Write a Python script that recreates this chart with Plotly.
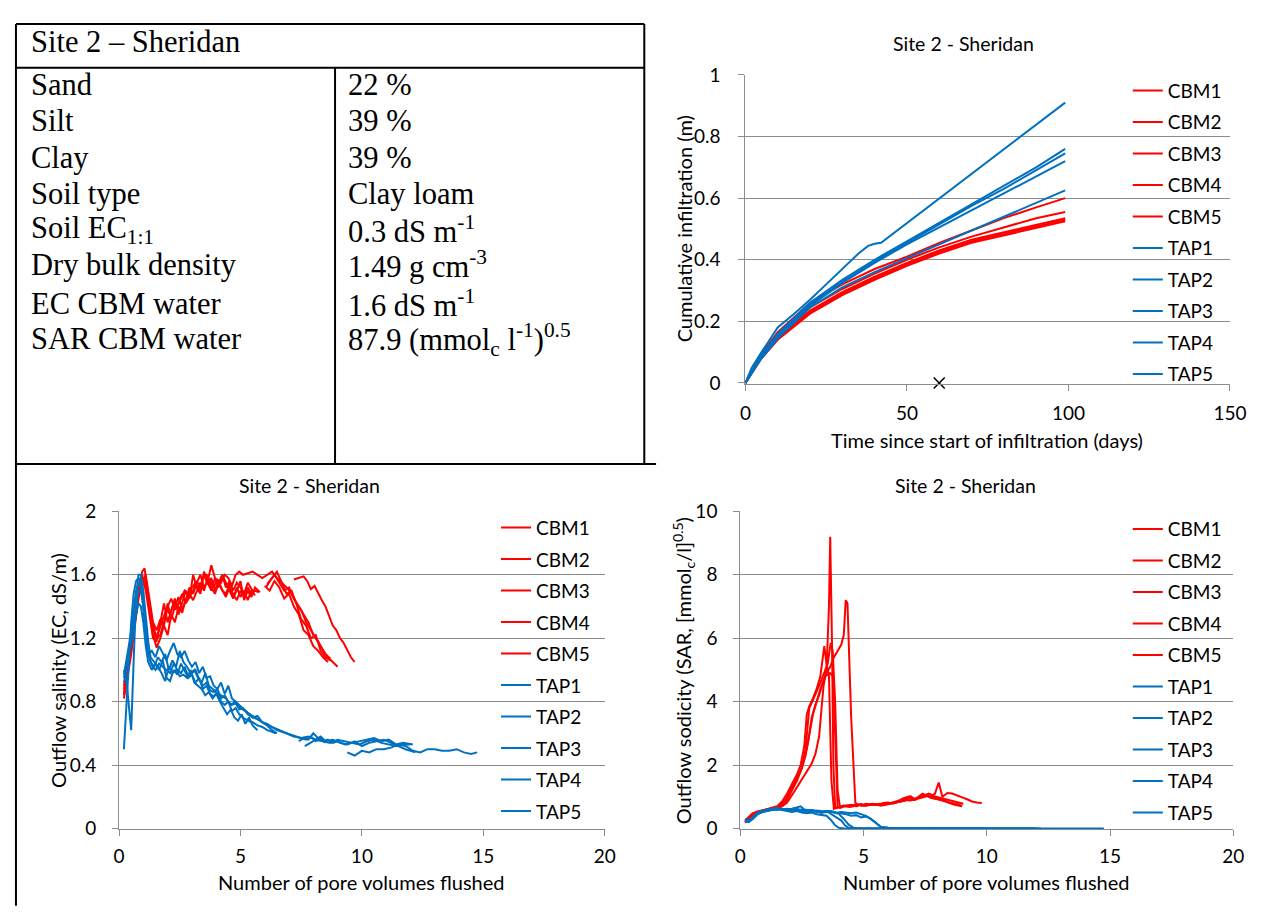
import plotly.graph_objects as go

# page is 1277x916; the browser keeps an 8px body margin, so the figure is 1261x900 at (8,8)
PAGE_W, PAGE_H = 1277, 916
OX, OY = 8, 8
W, H = PAGE_W - 2 * OX, PAGE_H - 2 * OY
RED = "#FF0000"
BLUE = "#0070C0"
GRID = "#8C8C8C"
FONT = "Lato"

# ---------------- table data ----------------
table_title = "Site 2 – Sheridan"
table_labels = ["Sand", "Silt", "Clay", "Soil type", "Soil EC<sub>1:1</sub>",
                "Dry bulk density", "EC CBM water", "SAR CBM water"]
table_values = ["22 %", "39 %", "39 %", "Clay loam", "0.3 dS m<sup>-1</sup>",
                "1.49 g cm<sup>-3</sup>", "1.6 dS m<sup>-1</sup>",
                "87.9 (mmol<sub>c</sub> l<sup>-1</sup>)<sup>0.5</sup>"]

chart_title = "Site 2 - Sheridan"
series_names = ["CBM1", "CBM2", "CBM3", "CBM4", "CBM5", "TAP1", "TAP2", "TAP3", "TAP4", "TAP5"]

# ---------------- cumulative infiltration (days, m) ----------------
inf_t = [0, 5, 10, 20, 30, 40, 50, 60, 70, 80, 90, 99]
inf_tap1_t = [0, 2, 5, 10, 15, 20, 25, 30, 35, 38, 40, 42, 50, 60, 70, 80, 90, 99]
inf_cbm1 = [0, 0.095, 0.165, 0.26, 0.32, 0.37, 0.41, 0.455, 0.495, 0.535, 0.57, 0.60]
inf_cbm2 = [0, 0.09, 0.155, 0.245, 0.305, 0.355, 0.40, 0.44, 0.475, 0.505, 0.535, 0.555]
inf_cbm3 = [0, 0.085, 0.15, 0.235, 0.295, 0.345, 0.39, 0.43, 0.465, 0.49, 0.515, 0.535]
inf_cbm4 = [0, 0.085, 0.145, 0.23, 0.29, 0.34, 0.385, 0.425, 0.46, 0.485, 0.51, 0.53]
inf_cbm5 = [0, 0.08, 0.14, 0.225, 0.285, 0.335, 0.38, 0.42, 0.455, 0.48, 0.505, 0.525]
inf_tap1 = [0, 0.05, 0.10, 0.18, 0.224, 0.27, 0.32, 0.37, 0.42, 0.445, 0.452, 0.455,
            0.519, 0.599, 0.678, 0.758, 0.838, 0.91]
inf_tap2 = [0, 0.09, 0.16, 0.26, 0.335, 0.40, 0.46, 0.52, 0.58, 0.64, 0.70, 0.76]
inf_tap3 = [0, 0.088, 0.155, 0.255, 0.33, 0.395, 0.455, 0.515, 0.575, 0.63, 0.69, 0.745]
inf_tap4 = [0, 0.085, 0.15, 0.25, 0.325, 0.39, 0.45, 0.505, 0.56, 0.615, 0.67, 0.72]
inf_tap5 = [0, 0.08, 0.145, 0.245, 0.31, 0.36, 0.405, 0.45, 0.495, 0.54, 0.585, 0.625]
inf_stray_t = [60]
inf_stray_v = [0]

# ---------------- outflow salinity EC (pore volumes, dS/m) ----------------
ec_cbm1_x = [0.2, 0.35, 0.5, 0.65, 0.8, 0.95, 1.05, 1.2, 1.35, 1.5, 1.65, 1.8, 1.95, 2.1, 2.25, 2.4,
             2.55, 2.7, 2.85, 3.0, 3.15, 3.3, 3.45, 3.6, 3.75, 3.9, 4.05, 4.2, 4.35, 4.5, 4.65, 4.8,
             4.95, 5.1, 5.3, 5.5, 5.7, 5.9, 6.1, 6.3, 6.5, 6.7, 6.9, 7.1, 7.3, 7.5, 7.7, 7.9, 8.1,
             8.3, 8.5, 8.7]
ec_cbm1_y = [0.85, 1.0, 1.15, 1.32, 1.5, 1.62, 1.64, 1.48, 1.3, 1.2, 1.25, 1.32, 1.38, 1.35, 1.42, 1.4,
             1.45, 1.5, 1.47, 1.52, 1.55, 1.5, 1.58, 1.6, 1.56, 1.52, 1.57, 1.55, 1.6, 1.58, 1.53, 1.6,
             1.62, 1.6, 1.61, 1.62, 1.6, 1.58, 1.6, 1.62, 1.58, 1.55, 1.52, 1.48, 1.42, 1.38, 1.3, 1.25,
             1.2, 1.15, 1.1, 1.07]
ec_cbm2_x = [0.2, 0.35, 0.5, 0.65, 0.8, 0.95, 1.1, 1.25, 1.4, 1.55, 1.7, 1.85, 2.0, 2.15, 2.3, 2.45,
             2.6, 2.75, 2.9, 3.05, 3.2, 3.35, 3.5, 3.65, 3.8, 3.95, 4.1, 4.25, 4.4, 4.55, 4.7, 4.85,
             5.0, 5.15, 5.3, 5.45, 5.6, 5.75, 5.9, 6.05, 6.2, 6.4, 6.6, 6.8, 7.0, 7.2, 7.4, 7.6, 7.8,
             8.0, 8.2, 8.4, 8.6, 8.8, 9.0]
ec_cbm2_y = [0.82, 0.95, 1.1, 1.28, 1.45, 1.58, 1.55, 1.38, 1.22, 1.14, 1.2, 1.28, 1.22, 1.35, 1.3, 1.4,
             1.36, 1.45, 1.48, 1.44, 1.5, 1.55, 1.5, 1.58, 1.52, 1.48, 1.55, 1.5, 1.46, 1.52, 1.48, 1.44,
             1.5, 1.46, 1.52, 1.48, 1.5, 1.49, None, 1.52, 1.56, 1.6, 1.55, 1.5, 1.52, 1.45, 1.4, 1.35,
             1.3, 1.22, 1.18, 1.12, 1.08, 1.05, 1.02]
ec_cbm3_x = [0.2, 0.35, 0.5, 0.65, 0.8, 0.95, 1.1, 1.25, 1.4, 1.55, 1.7, 1.85, 2.0, 2.15, 2.3, 2.45,
             2.6, 2.75, 2.9, 3.05, 3.2, 3.35, 3.5, 3.65, 3.8, 3.95, 4.1, 4.25, 4.4, 4.55, 4.7, 4.85,
             5.0, 5.15, 5.3, 5.45, 5.6, 5.9, 6.1, 6.3, 6.5, 6.7, 6.9, 7.1, 7.3, 7.5, 7.7, 7.9, 8.1,
             8.3, 8.5, 8.7]
ec_cbm3_y = [0.9, 1.02, 1.18, 1.35, 1.52, 1.6, 1.5, 1.35, 1.2, 1.18, 1.3, 1.42, 1.3, 1.38, 1.45, 1.35,
             1.42, 1.5, 1.45, 1.6, 1.52, 1.48, 1.62, 1.55, 1.5, 1.58, 1.52, 1.6, 1.55, 1.5, 1.45, 1.52,
             1.46, 1.5, 1.44, 1.5, 1.47, None, 1.54, 1.58, 1.62, 1.55, 1.48, 1.5, 1.42, 1.32, 1.28, 1.2,
             1.22, 1.12, 1.08, 1.06]
ec_cbm4_x = [0.2, 0.35, 0.5, 0.65, 0.8, 0.95, 1.1, 1.25, 1.4, 1.55, 1.7, 1.85, 2.0, 2.15, 2.3, 2.45,
             2.6, 2.75, 2.9, 3.05, 3.2, 3.35, 3.5, 3.65, 3.8, 3.95, 4.1, 4.25, 4.4, 4.55, 4.7, 4.85,
             5.0, 5.15, 5.3, 5.5, 5.75, 6.0, 6.2, 6.4, 6.6, 6.8, 7.0, 7.2, 7.4, 7.6, 7.8, 8.0, 8.2,
             8.4, 8.6]
ec_cbm4_y = [0.88, 1.0, 1.12, 1.3, 1.48, 1.56, 1.52, 1.4, 1.28, 1.2, 1.22, 1.3, 1.42, 1.32, 1.4, 1.46,
             1.38, 1.44, 1.52, 1.48, 1.55, 1.6, 1.52, 1.56, 1.66, 1.58, 1.55, 1.6, 1.52, 1.56, 1.5, 1.55,
             1.52, 1.48, 1.55, 1.5, None, 1.53, 1.5, 1.56, 1.52, 1.45, 1.48, 1.4, 1.35, 1.25, 1.22, 1.15,
             1.12, 1.08, 1.05]
ec_cbm5_x = [0.2, 0.35, 0.5, 0.65, 0.8, 0.95, 1.1, 1.25, 1.4, 1.55, 1.7, 1.85, 2.0, 2.15, 2.3, 2.45,
             2.6, 2.75, 2.9, 3.05, 3.2, 3.35, 3.5, 3.65, 3.8, 3.95, 4.1, 4.25, 4.4, 4.55, 4.7, 4.85,
             5.0, 5.15, 5.3, 5.45, 5.6, 5.8, 6.5, 7.2, 7.4, 7.6, 7.75, 7.9, 8.05, 8.2, 8.35, 8.5, 8.65,
             8.8, 8.95, 9.1, 9.25, 9.4, 9.55, 9.7]
ec_cbm5_y = [0.84, 0.98, 1.14, 1.3, 1.46, 1.55, 1.6, 1.45, 1.3, 1.25, 1.32, 1.28, 1.4, 1.45, 1.38, 1.42,
             1.48, 1.42, 1.46, 1.5, 1.56, 1.52, 1.6, 1.54, 1.58, 1.5, 1.56, 1.5, 1.48, 1.54, 1.46, 1.5,
             1.56, 1.44, 1.5, 1.46, 1.52, 1.49, None, 1.57, 1.58, 1.59, 1.56, 1.51, 1.53, 1.48, 1.44,
             1.4, 1.34, 1.28, 1.25, 1.2, 1.17, 1.12, 1.08, 1.05]
ec_tap1_x = [0.2, 0.3, 0.4, 0.5, 0.6, 0.7, 0.8, 0.9, 1.0, 1.1, 1.2, 1.3, 1.45, 1.6, 1.75, 1.9, 2.05,
             2.2, 2.35, 2.5, 2.65, 2.8, 2.95, 3.1, 3.25, 3.4, 3.55, 3.7, 3.85, 4.0, 4.2, 4.4, 4.6, 4.8,
             5.0, 5.2, 5.4, 5.6, 5.8, 6.0, 6.3, 6.6, 6.9, 7.2, 7.5, 7.8, 8.1, 8.4, 8.7, 9.0, 9.3, 9.6,
             9.9, 10.2, 10.5, 10.8, 11.1, 11.4, 11.7, 12.0]
ec_tap1_y = [0.5, 0.78, 1.05, 1.3, 1.48, 1.56, 1.58, 1.55, 1.42, 1.25, 1.12, 1.05, 1.02, 1.08, 1.05,
             1.1, 1.0, 1.06, 1.02, 1.12, 1.05, 1.02, 0.98, 1.0, 0.95, 0.92, 0.98, 0.9, 0.88, 0.86, 0.84,
             0.82, 0.78, 0.8, 0.76, 0.74, 0.72, 0.7, 0.68, 0.66, 0.64, 0.62, 0.6, 0.58, 0.57, 0.58, 0.56,
             0.55, 0.54, 0.56, 0.55, 0.54, 0.53, 0.55, 0.56, 0.54, 0.53, 0.52, 0.53, 0.53]
ec_tap2_x = [0.2, 0.3, 0.4, 0.5, 0.6, 0.7, 0.8, 0.9, 1.0, 1.1, 1.2, 1.3, 1.45, 1.6, 1.75, 1.9, 2.05,
             2.2, 2.35, 2.5, 2.65, 2.8, 2.95, 3.1, 3.25, 3.4, 3.55, 3.7, 3.85, 4.0, 4.15, 4.3, 4.45,
             4.6, 4.75, 4.9, 5.05, 5.2, 5.35, 5.5, 5.7]
ec_tap2_y = [1.0, 0.95, 0.78, 0.62, 1.05, 1.45, 1.6, 1.6, 1.5, 1.32, 1.18, 1.08, 1.05, 1.02, 0.98,
             0.93, 1.02, 0.98, 1.0, 0.96, 0.97, 0.95, 1.0, 0.92, 0.9, 0.88, 0.84, 0.86, 0.82, 0.85, 0.8,
             0.76, 0.72, 0.75, 0.7, 0.68, 0.72, 0.66, 0.7, 0.65, 0.62]
ec_tap3_x = [0.2, 0.3, 0.4, 0.5, 0.6, 0.7, 0.8, 0.9, 1.0, 1.1, 1.2, 1.35, 1.5, 1.65, 1.8, 1.95, 2.1,
             2.25, 2.4, 2.55, 2.7, 2.85, 3.0, 3.15, 3.3, 3.45, 3.6, 3.75, 3.9, 4.05, 4.2, 4.35, 4.5,
             4.65, 4.8, 4.95, 5.1, 5.3, 5.5, 5.7, 5.9, 6.1, 6.3, 6.5, 7.0, 7.4, 7.6, 7.8, 8.0, 8.2,
             8.4, 8.6, 8.8, 9.0, 9.3, 9.6, 9.9, 10.2, 10.5, 10.8, 11.1, 11.4, 11.7, 12.1]
ec_tap3_y = [0.95, 1.02, 1.1, 1.2, 1.3, 1.42, 1.5, 1.5, 1.4, 1.22, 1.1, 1.12, 1.08, 1.15, 1.1, 1.06,
             1.12, 1.17, 1.1, 1.08, 1.12, 1.06, 1.02, 1.05, 0.98, 1.02, 0.95, 0.96, 0.9, 0.88, 0.92,
             0.85, 0.9, 0.82, 0.8, 0.78, 0.76, 0.73, 0.7, 0.69, 0.67, 0.65, 0.62, 0.6, None, 0.55, 0.57,
             0.56, 0.6, 0.57, 0.55, 0.56, 0.54, 0.55, 0.53, 0.54, 0.55, 0.56, 0.57, 0.55, 0.56, 0.53,
             0.54, 0.53]
ec_tap4_x = [0.2, 0.3, 0.4, 0.5, 0.6, 0.7, 0.8, 0.9, 1.0, 1.1, 1.2, 1.35, 1.5, 1.65, 1.8, 1.95, 2.1,
             2.25, 2.4, 2.55, 2.7, 2.85, 3.0, 3.15, 3.3, 3.45, 3.6, 3.75, 3.9, 4.05, 4.2, 4.35, 4.5,
             4.65, 4.8, 4.95, 5.1, 5.3, 5.5, 5.7, 5.9, 6.1, 6.3, 6.45, 7.0, 7.65, 7.9, 8.1, 8.3, 8.5,
             8.8, 9.1, 9.4, 9.7, 10.0, 10.3, 10.6, 10.9, 11.2, 11.5, 11.8, 12.2]
ec_tap4_y = [0.92, 1.0, 1.08, 1.15, 1.25, 1.35, 1.42, 1.4, 1.3, 1.15, 1.05, 1.0, 1.04, 1.0, 1.06, 0.95,
             0.93, 1.0, 0.97, 1.04, 0.99, 0.95, 0.97, 0.92, 0.95, 0.88, 0.9, 0.85, 0.83, 0.86, 0.8,
             0.78, 0.8, 0.74, 0.76, 0.72, 0.7, 0.68, 0.67, 0.65, 0.64, 0.62, 0.61, 0.6, None, 0.52,
             0.54, 0.56, 0.58, 0.55, 0.56, 0.54, 0.53, 0.55, 0.52, 0.54, 0.55, 0.56, 0.54, 0.52, 0.5,
             0.48]
ec_tap5_x = [0.2, 0.3, 0.4, 0.5, 0.6, 0.7, 0.8, 0.9, 1.0, 1.1, 1.2, 1.35, 1.5, 1.65, 1.8, 1.95, 2.1,
             2.25, 2.4, 2.55, 2.7, 2.85, 3.0, 3.15, 3.3, 3.45, 3.6, 3.75, 3.9, 4.05, 4.2, 4.35, 4.5,
             4.65, 4.8, 4.95, 5.1, 5.3, 5.5, 5.7, 5.9, 6.1, 6.3, 6.5, 6.7, 6.9, 7.1, 7.3, 7.5, 7.7,
             7.9, 8.1, 8.3, 8.5, 9.0, 9.4, 9.7, 10.0, 10.3, 10.6, 10.9, 11.2, 11.5, 11.8, 12.1, 12.4,
             12.7, 13.0, 13.3, 13.6, 13.9, 14.2, 14.5, 14.75]
ec_tap5_y = [0.97, 1.05, 1.15, 1.25, 1.38, 1.5, 1.55, 1.52, 1.4, 1.22, 1.1, 1.03, 1.0, 1.04, 1.02, 1.0,
             0.98, 1.04, 1.0, 0.98, 1.02, 0.96, 0.98, 1.0, 0.94, 0.9, 0.92, 0.87, 0.86, 0.88, 0.82,
             0.84, 0.8, 0.78, 0.79, 0.75, 0.76, 0.72, 0.7, 0.71, 0.67, 0.66, 0.64, 0.62, 0.61, 0.6,
             0.59, 0.58, 0.57, 0.56, 0.58, 0.55, 0.57, 0.54, None, 0.48, 0.46, 0.49, 0.48, 0.5, 0.5,
             0.51, 0.53, 0.52, 0.49, 0.48, 0.5, 0.5, 0.49, 0.49, 0.5, 0.48, 0.47, 0.48]

# ---------------- outflow sodicity SAR (pore volumes, (mmolc/l)^0.5) ----------------
sar_cbm1_x = [0.2, 0.35, 0.5, 0.7, 0.9, 1.1, 1.3, 1.5, 1.7, 1.9, 2.1, 2.3, 2.5, 2.65, 2.8, 2.95, 3.1,
              3.25, 3.4, 3.5, 3.6, 3.65, 3.72, 3.78, 3.85, 4.1, 4.3, 4.5, 4.7, 4.9, 5.1, 5.3, 5.5, 5.7,
              5.9, 6.1, 6.3, 6.5, 6.7, 6.9, 7.1, 7.3, 7.5, 7.7, 7.9, 8.1, 8.3, 8.5, 8.7, 9.0]
sar_cbm1_y = [0.2, 0.3, 0.42, 0.5, 0.55, 0.58, 0.62, 0.66, 0.75, 0.95, 1.25, 1.55, 1.9, 2.3, 2.9, 3.6,
              4.0, 4.4, 4.7, 5.0, 7.0, 9.2, 6.0, 2.0, 0.65, 0.7, 0.72, 0.75, 0.7, 0.78, 0.72, 0.75,
              0.76, 0.74, 0.78, 0.8, 0.82, 0.85, 0.88, 0.95, 0.9, 1.0, 1.05, 0.98, 0.95, 0.92, 0.88,
              0.8, 0.75, 0.7]
sar_cbm2_x = [0.2, 0.35, 0.5, 0.7, 0.9, 1.1, 1.3, 1.5, 1.7, 1.9, 2.1, 2.3, 2.45, 2.6, 2.75, 2.9,
              3.05, 3.2, 3.35, 3.5, 3.65, 3.8, 3.95, 4.1, 4.2, 4.28, 4.35, 4.5, 4.67, 4.9, 5.1, 5.3,
              5.5, 5.7, 5.9, 6.1, 6.3, 6.5, 6.7, 6.9, 7.1, 7.3, 7.5, 7.7, 7.9, 8.05, 8.2, 8.4, 8.6,
              8.8, 9.0, 9.2, 9.4, 9.6, 9.8]
sar_cbm2_y = [0.18, 0.3, 0.45, 0.52, 0.56, 0.6, 0.63, 0.66, 0.72, 0.9, 1.2, 1.5, 1.8, 2.2, 2.7, 3.5,
              3.9, 4.2, 4.6, 4.9, 5.1, 5.4, 5.6, 5.8, 6.1, 7.2, 7.1, 3.5, 0.8, 0.72, 0.78, 0.74, 0.76,
              0.72, 0.75, 0.78, 0.8, 0.85, 0.9, 0.88, 0.92, 1.0, 1.05, 0.98, 1.1, 1.45, 1.0, 1.12, 1.1,
              1.05, 0.98, 0.92, 0.85, 0.82, 0.8]
sar_cbm3_x = [0.2, 0.35, 0.5, 0.7, 0.9, 1.1, 1.3, 1.5, 1.7, 1.9, 2.1, 2.3, 2.45, 2.6, 2.7, 2.8, 2.95,
              3.1, 3.25, 3.35, 3.41, 3.5, 3.6, 3.7, 3.8, 4.0, 4.2, 4.4, 4.6, 4.8, 5.0, 5.2, 5.4, 5.6,
              5.8, 6.0, 6.2, 6.4, 6.6, 6.8, 7.0, 7.2, 7.4, 7.6, 7.8, 8.0, 8.2, 8.4, 8.6, 8.8, 9.0]
sar_cbm3_y = [0.22, 0.32, 0.45, 0.52, 0.56, 0.6, 0.64, 0.7, 0.85, 1.1, 1.4, 1.7, 2.0, 2.6, 3.6, 3.85,
              4.1, 4.4, 4.8, 5.3, 5.75, 5.2, 4.8, 1.5, 0.62, 0.68, 0.72, 0.7, 0.74, 0.75, 0.72, 0.76,
              0.78, 0.74, 0.8, 0.82, 0.78, 0.85, 0.95, 1.0, 0.9, 0.98, 1.1, 1.02, 0.95, 0.92, 0.88,
              0.82, 0.8, 0.76, 0.72]
sar_cbm4_x = [0.2, 0.35, 0.5, 0.7, 0.9, 1.1, 1.3, 1.5, 1.7, 1.9, 2.1, 2.3, 2.5, 2.65, 2.8, 2.95, 3.1,
              3.25, 3.4, 3.55, 3.67, 3.75, 3.85, 3.95, 4.05, 4.25, 4.45, 4.65, 4.85, 5.05, 5.25, 5.45,
              5.65, 5.85, 6.05, 6.25, 6.45, 6.65, 6.85, 7.05, 7.25, 7.45, 7.65, 7.85, 8.05, 8.25, 8.45,
              8.65, 8.85, 9.05]
sar_cbm4_y = [0.25, 0.35, 0.48, 0.54, 0.58, 0.6, 0.62, 0.68, 0.8, 1.0, 1.3, 1.6, 1.9, 2.5, 3.8, 4.05,
              4.3, 4.6, 4.9, 5.2, 5.85, 5.6, 4.0, 1.2, 0.65, 0.7, 0.68, 0.72, 0.75, 0.72, 0.76, 0.74,
              0.78, 0.76, 0.8, 0.82, 0.84, 0.88, 1.0, 0.92, 0.98, 1.05, 1.1, 1.02, 0.98, 0.92, 0.88,
              0.84, 0.8, 0.78]
sar_cbm5_x = [0.2, 0.35, 0.5, 0.7, 0.9, 1.1, 1.3, 1.5, 1.7, 1.9, 2.1, 2.3, 2.5, 2.7, 2.9, 3.05, 3.2,
              3.3, 3.38, 3.45, 3.55, 3.65, 3.75, 3.85, 3.95, 4.1, 4.3, 4.5, 4.7, 4.9, 5.1, 5.3, 5.5,
              5.7, 5.9, 6.1, 6.3, 6.5, 6.7, 6.9, 7.1, 7.3, 7.5, 7.7, 7.9, 8.1, 8.3, 8.5, 8.7, 8.9]
sar_cbm5_y = [0.2, 0.28, 0.42, 0.5, 0.55, 0.58, 0.6, 0.64, 0.7, 0.82, 1.05, 1.3, 1.55, 1.8, 2.05, 2.35,
              2.9, 3.8, 4.5, 4.8, 4.85, 4.9, 4.8, 3.0, 0.65, 0.7, 0.72, 0.74, 0.7, 0.75, 0.73, 0.76,
              0.74, 0.75, 0.78, 0.8, 0.84, 0.9, 0.95, 1.02, 0.92, 0.96, 1.0, 1.08, 0.98, 0.92, 0.85,
              0.8, 0.78, 0.75]
sar_tap1_x = [0.2, 0.35, 0.5, 0.7, 0.9, 1.1, 1.3, 1.5, 1.7, 1.9, 2.1, 2.3, 2.5, 2.7, 2.9, 3.1, 3.3,
              3.5, 3.7, 3.9, 4.1, 4.3, 4.5, 4.7, 4.9, 5.1, 5.3, 5.5, 5.7, 6.0, 7.0, 8.0, 9.0, 10.0,
              11.0, 12.0]
sar_tap1_y = [0.3, 0.25, 0.35, 0.5, 0.55, 0.6, 0.62, 0.65, 0.6, 0.62, 0.58, 0.6, 0.6, 0.55, 0.58,
              0.55, 0.5, 0.52, 0.55, 0.5, 0.48, 0.45, 0.4, 0.42, 0.35, 0.38, 0.3, 0.18, 0.05, 0.02,
              0.01, 0.01, 0.01, 0.0, 0.0, 0.0]
sar_tap2_x = [0.2, 0.35, 0.5, 0.7, 0.9, 1.1, 1.3, 1.5, 1.7, 1.9, 2.1, 2.3, 2.5, 2.7, 2.9, 3.1, 3.3,
              3.5, 3.7, 3.85, 4.0, 4.2, 5.0, 6.0, 8.0, 10.0]
sar_tap2_y = [0.25, 0.22, 0.3, 0.45, 0.52, 0.55, 0.6, 0.62, 0.58, 0.55, 0.52, 0.55, 0.5, 0.48, 0.5,
              0.45, 0.42, 0.4, 0.25, 0.1, 0.02, 0.0, 0.0, 0.0, 0.0, 0.0]
sar_tap3_x = [0.2, 0.35, 0.5, 0.7, 0.9, 1.1, 1.3, 1.5, 1.7, 1.9, 2.1, 2.3, 2.5, 2.7, 2.9, 3.1, 3.3,
              3.5, 3.7, 3.9, 4.1, 4.25, 4.4, 5.0, 6.0, 8.0, 10.0, 12.2]
sar_tap3_y = [0.28, 0.24, 0.32, 0.48, 0.55, 0.58, 0.6, 0.58, 0.62, 0.6, 0.58, 0.62, 0.55, 0.52, 0.55,
              0.52, 0.5, 0.55, 0.45, 0.35, 0.25, 0.1, 0.02, 0.0, 0.0, 0.0, 0.0, 0.0]
sar_tap4_x = [0.2, 0.35, 0.5, 0.7, 0.9, 1.1, 1.3, 1.5, 1.7, 1.9, 2.1, 2.3, 2.45, 2.6, 2.8, 3.0, 3.2,
              3.4, 3.6, 3.8, 4.0, 4.2, 4.4, 4.6, 5.0, 6.0, 8.0, 10.0, 12.0]
sar_tap4_y = [0.22, 0.2, 0.3, 0.45, 0.52, 0.56, 0.6, 0.62, 0.6, 0.58, 0.62, 0.66, 0.7, 0.6, 0.58,
              0.55, 0.56, 0.52, 0.54, 0.5, 0.46, 0.3, 0.12, 0.02, 0.0, 0.0, 0.0, 0.0, 0.0]
sar_tap5_x = [0.2, 0.35, 0.5, 0.7, 0.9, 1.1, 1.3, 1.5, 1.7, 1.9, 2.1, 2.3, 2.5, 2.7, 2.9, 3.1, 3.3,
              3.5, 3.7, 3.9, 4.1, 4.3, 4.5, 4.7, 4.9, 5.1, 5.3, 5.5, 5.7, 6.0, 7.0, 8.0, 9.0, 10.0,
              11.0, 12.0, 13.0, 14.0, 14.75]
sar_tap5_y = [0.26, 0.24, 0.34, 0.48, 0.54, 0.58, 0.6, 0.62, 0.6, 0.58, 0.6, 0.58, 0.56, 0.58, 0.55,
              0.56, 0.54, 0.55, 0.52, 0.5, 0.52, 0.5, 0.48, 0.5, 0.44, 0.4, 0.3, 0.18, 0.05, 0.02, 0.01,
              0.01, 0.0, 0.0, 0.0, 0.0, 0.0, 0.0, 0.0]


# ---------------- helpers: page pixel -> paper fraction ----------------
def px(x):
    return (x - OX) / W


def py(y):
    return 1 - (y - OY) / H


fig = go.Figure()

inf_series = [(inf_t, inf_cbm1), (inf_t, inf_cbm2), (inf_t, inf_cbm3), (inf_t, inf_cbm4),
              (inf_t, inf_cbm5), (inf_tap1_t, inf_tap1), (inf_t, inf_tap2), (inf_t, inf_tap3),
              (inf_t, inf_tap4), (inf_t, inf_tap5)]
ec_series = [(ec_cbm1_x, ec_cbm1_y), (ec_cbm2_x, ec_cbm2_y), (ec_cbm3_x, ec_cbm3_y),
             (ec_cbm4_x, ec_cbm4_y), (ec_cbm5_x, ec_cbm5_y), (ec_tap1_x, ec_tap1_y),
             (ec_tap2_x, ec_tap2_y), (ec_tap3_x, ec_tap3_y), (ec_tap4_x, ec_tap4_y),
             (ec_tap5_x, ec_tap5_y)]
sar_series = [(sar_cbm1_x, sar_cbm1_y), (sar_cbm2_x, sar_cbm2_y), (sar_cbm3_x, sar_cbm3_y),
              (sar_cbm4_x, sar_cbm4_y), (sar_cbm5_x, sar_cbm5_y), (sar_tap1_x, sar_tap1_y),
              (sar_tap2_x, sar_tap2_y), (sar_tap3_x, sar_tap3_y), (sar_tap4_x, sar_tap4_y),
              (sar_tap5_x, sar_tap5_y)]

panels = [(inf_series, "x", "y", "legend", "a"),
          (ec_series, "x2", "y2", "legend2", "b"),
          (sar_series, "x3", "y3", "legend3", "c")]

for series, xa, ya, leg, tag in panels:
    for name, (xs, ys) in zip(series_names, series):
        color = RED if name.startswith("CBM") else BLUE
        fig.add_trace(go.Scatter(
            x=xs, y=ys, mode="lines", name=name,
            line=dict(color=color, width=2),
            xaxis=xa, yaxis=ya, legend=leg, legendgroup=tag + name,
            connectgaps=False, hoverinfo="skip"))

fig.add_trace(go.Scatter(
    x=inf_stray_t, y=inf_stray_v, mode="markers", showlegend=False,
    marker=dict(symbol="x-thin", size=11, line=dict(color="black", width=1.6)),
    cliponaxis=False, xaxis="x", yaxis="y", hoverinfo="skip"))

tickfont = dict(family=FONT, size=19, color="black")


def xax(domain, rng, dtick, anchor, standoff):
    return dict(domain=domain, range=rng, dtick=dtick, tick0=0, showgrid=False, zeroline=False,
                showline=True, linecolor=GRID, linewidth=1, ticks="outside", ticklen=6,
                tickcolor=GRID, tickfont=tickfont, ticklabelstandoff=standoff, anchor=anchor,
                fixedrange=True)


def yax(domain, rng, dtick, anchor, standoff):
    return dict(domain=domain, range=rng, dtick=dtick, tick0=0, showgrid=True, gridcolor=GRID,
                gridwidth=1, zeroline=False, showline=True, linecolor=GRID, linewidth=1,
                ticks="outside", ticklen=6, tickcolor=GRID, tickfont=tickfont,
                ticklabelstandoff=standoff, anchor=anchor, fixedrange=True)


fig.update_layout(
    width=W, height=H, autosize=False,
    margin=dict(l=0, r=0, t=0, b=0, pad=0),
    paper_bgcolor="white", plot_bgcolor="rgba(0,0,0,0)",
    xaxis=xax([px(753), px(1246.5)], [0, 150], 50, "y", 6),
    yaxis=yax([py(381), py(64.3)], [-0.003, 1], 0.2, "x", 14),
    xaxis2=xax([px(115), px(609.7)], [0, 20], 5, "y2", 4),
    yaxis2=yax([py(837.7), py(511.7)], [-0.006, 2], 0.4, "x2", 12),
    xaxis3=xax([px(747.7), px(1250)], [0, 20], 5, "y3", 4),
    yaxis3=yax([py(837.7), py(511.7)], [-0.03, 10], 2, "x3", 12),
    showlegend=True,
)

legend_common = dict(xanchor="left", yanchor="top", bgcolor="rgba(0,0,0,0)",
                     font=dict(family=FONT, size=19, color="black"), itemwidth=30,
                     tracegroupgap=3.8, traceorder="grouped", borderwidth=0)
fig.update_layout(
    legend=dict(legend_common, x=px(1142.5), y=py(61)),
    legend2=dict(legend_common, x=px(499), y=py(509)),
    legend3=dict(legend_common, x=px(1142.5), y=py(510.5)),
)

# ---------------- table and text ----------------
serif = dict(family="Liberation Serif", size=30.5, color="black")
annotations = [dict(x=px(23), y=py(30.5), xref="paper", yref="paper", text=table_title,
                    showarrow=False, xanchor="left", yanchor="middle", font=serif)]
row_y = [75, 112, 149, 186, 223, 259, 299, 335]
for lab, val, ry in zip(table_labels, table_values, row_y):
    annotations.append(dict(x=px(23), y=py(ry), xref="paper", yref="paper", text=lab,
                            showarrow=False, xanchor="left", yanchor="middle", font=serif))
    annotations.append(dict(x=px(346), y=py(ry), xref="paper", yref="paper", text=val,
                            showarrow=False, xanchor="left", yanchor="middle", font=serif))

title_font = dict(family=FONT, size=19.5, color="black")
axis_font = dict(family=FONT, size=20, color="black")
for cx, cy in [(975, 32), (309, 485), (977, 485)]:
    annotations.append(dict(x=px(cx), y=py(cy), xref="paper", yref="paper", text=chart_title,
                            showarrow=False, xanchor="center", yanchor="middle", font=title_font))

axis_titles = [
    (999, 439, 0, "Time since start of infiltration (days)"),
    (690, 222, -90, "Cumulative infiltration (m)"),
    (362, 892, 0, "Number of pore volumes flushed"),
    (52, 675, -90, "Outflow salinity (EC, dS/m)"),
    (999, 892, 0, "Number of pore volumes flushed"),
    (690, 675, -90, "Outflow sodicity (SAR, [mmol<sub>c</sub>/l]<sup>0.5</sup>)"),
]
for cx, cy, ang, txt in axis_titles:
    annotations.append(dict(x=px(cx), y=py(cy), xref="paper", yref="paper", text=txt,
                            showarrow=False, xanchor="center", yanchor="middle",
                            textangle=ang, font=axis_font))
fig.update_layout(annotations=annotations)

# table border lines (page pixel coordinates)
lines = [
    (10, 12, 650, 12),
    (10, 12, 10, 916),
    (10, 57, 650, 57),
    (335, 57, 335, 463),
    (650, 12, 650, 463),
    (10, 463, 662, 463),
]
shapes = []
for x0, y0, x1, y1 in lines:
    shapes.append(dict(type="line", xref="paper", yref="paper", x0=px(x0), y0=py(y0),
                       x1=px(x1), y1=py(y1), line=dict(color="black", width=2)))
fig.update_layout(shapes=shapes)

fig.write_html("out.html", config={"displayModeBar": False, "staticPlot": True})
